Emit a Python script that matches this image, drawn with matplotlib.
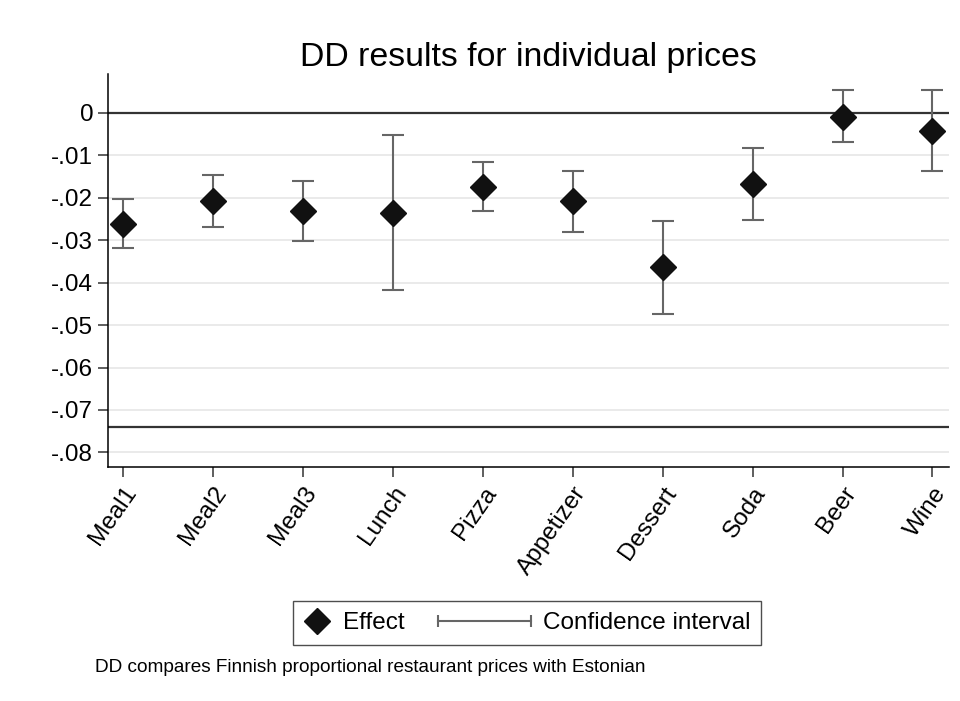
import matplotlib
matplotlib.use("Agg")
import matplotlib.pyplot as plt
import numpy as np
from matplotlib.legend_handler import HandlerBase
from matplotlib.lines import Line2D

plt.rcParams["font.family"] = ["Liberation Sans", "DejaVu Sans"]

# DD estimates and confidence bounds per price item
items = ["Meal1", "Meal2", "Meal3", "Lunch", "Pizza",
         "Appetizer", "Dessert", "Soda", "Beer", "Wine"]
effect = np.array([-0.0262, -0.0207, -0.0231, -0.0236, -0.0174,
                   -0.0209, -0.0363, -0.0168, -0.0009, -0.0042])
ci_low = np.array([-0.0318, -0.0268, -0.0301, -0.0418, -0.0232,
                   -0.0280, -0.0473, -0.0253, -0.0070, -0.0137])
ci_high = np.array([-0.0204, -0.0147, -0.0160, -0.0052, -0.0116,
                    -0.0137, -0.0254, -0.0082, 0.0053, 0.0053])
ref_lines = [0.0, -0.074]
yticks = [0, -0.01, -0.02, -0.03, -0.04, -0.05, -0.06, -0.07, -0.08]
ytick_labels = ["0", "-.01", "-.02", "-.03", "-.04", "-.05", "-.06", "-.07", "-.08"]

fs = 17.5
ci_color = "#666666"
mk_color = "#111111"


class CIHandler(HandlerBase):
    # capped horizontal segment, drawn leftwards from the handle box edge
    def create_artists(self, legend, orig_handle, xdescent, ydescent,
                       width, height, fontsize, trans):
        y = height / 2 - ydescent
        x1 = -xdescent + width
        x0 = x1 - 3.8 * fontsize
        line = Line2D([x0, x1], [y, y], color=ci_color, lw=1.5,
                      marker="|", ms=8, mew=1.5, transform=trans)
        return [line]


fig = plt.figure(figsize=(9.6, 7.01), dpi=100)
ax = fig.add_axes([0.1122, 0.3334, 0.8760, 0.5606])

x = np.arange(1, len(items) + 1)

for yv in yticks:
    ax.axhline(yv, color="#e8e8e8", lw=1.3, zorder=0)
for yv in ref_lines:
    ax.axhline(yv, color="#333333", lw=1.6, zorder=1)

ax.errorbar(x, effect, yerr=[effect - ci_low, ci_high - effect], fmt="D",
            color=mk_color, ms=13.5, ecolor=ci_color, elinewidth=1.5,
            capsize=8, capthick=1.5, zorder=3)

ax.set_xlim(0.833, 10.18)
ax.set_ylim(-0.0835, 0.00905)
ax.set_yticks(yticks)
ax.set_yticklabels(ytick_labels, fontsize=fs)
ax.set_xticks(x)
ax.set_xticklabels(items, fontsize=fs, rotation=55, ha="right",
                   rotation_mode="anchor")
ax.tick_params(axis="both", length=7, width=1.1, color="#333333", pad=3.5)
ax.tick_params(axis="x", pad=4)

for side in ["top", "right"]:
    ax.spines[side].set_visible(False)
for side in ["left", "bottom"]:
    ax.spines[side].set_linewidth(1.1)

ax.set_title("DD results for individual prices", fontsize=24.4, pad=6)

effect_handle = Line2D([], [], ls="none", marker="D", ms=13.5, color=mk_color)
ci_handle = Line2D([], [], color=ci_color)
leg = fig.legend([effect_handle, ci_handle], ["Effect", "Confidence interval"],
                 handler_map={ci_handle: CIHandler()},
                 loc="center", bbox_to_anchor=(527 / 960, 1 - 623 / 701),
                 ncol=2, fontsize=fs, frameon=True, fancybox=False,
                 edgecolor="#222222", handlelength=1.1, handletextpad=0.5,
                 columnspacing=4.1, borderpad=0.45, borderaxespad=0)
leg.get_frame().set_linewidth(1.0)

fig.text(95 / 960, 1 - 668 / 701,
         "DD compares Finnish proportional restaurant prices with Estonian",
         fontsize=13.7, va="center", ha="left")

fig.savefig("out.png", dpi=100, facecolor="white")
